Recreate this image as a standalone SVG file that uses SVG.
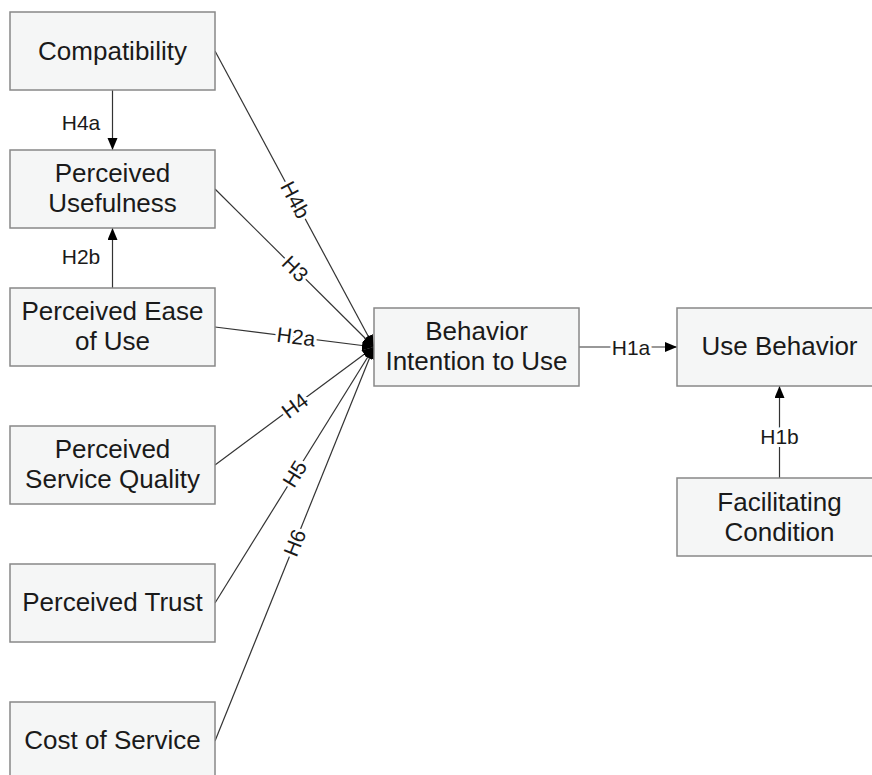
<svg xmlns="http://www.w3.org/2000/svg" width="872" height="775" viewBox="0 0 872 775">
<style>
.box{fill:#f5f6f6;stroke:#888;stroke-width:1.5}
.t{font-family:"Liberation Sans",Arial,sans-serif;font-size:26px;fill:#1a1a1a;text-anchor:middle}
.l{font-family:"Liberation Sans",Arial,sans-serif;font-size:21px;fill:#1a1a1a;text-anchor:middle}
.lb{stroke:#fff;stroke-width:6;paint-order:stroke;stroke-linejoin:round}
.c{stroke:#333;stroke-width:1.2;fill:none}
</style>
<defs>
<marker id="ah" markerUnits="userSpaceOnUse" markerWidth="14" markerHeight="12" refX="12" refY="5" orient="auto">
<path d="M0,0 L12,5 L0,10 z" fill="#000"/>
</marker>
</defs>
<rect width="872" height="775" fill="#fff"/>
<g id="connectors">
<line class="c" x1="112.5" y1="90" x2="112.5" y2="150" marker-end="url(#ah)"/>
<line class="c" x1="112.5" y1="288" x2="112.5" y2="228" marker-end="url(#ah)"/>
<line class="c" x1="215" y1="51" x2="374" y2="347" marker-end="url(#ah)"/>
<line class="c" x1="215" y1="189" x2="374" y2="347" marker-end="url(#ah)"/>
<line class="c" x1="215" y1="327" x2="374" y2="347" marker-end="url(#ah)"/>
<line class="c" x1="215" y1="465" x2="374" y2="347" marker-end="url(#ah)"/>
<line class="c" x1="215" y1="603" x2="374" y2="347" marker-end="url(#ah)"/>
<line class="c" x1="215" y1="741" x2="374" y2="347" marker-end="url(#ah)"/>
<line class="c" x1="579" y1="347" x2="677" y2="347" marker-end="url(#ah)"/>
<line class="c" x1="779.5" y1="478" x2="779.5" y2="386" marker-end="url(#ah)"/>
<text class="l" x="81" y="130">H4a</text>
<text class="l" x="81" y="264">H2b</text>
<text class="l lb" transform="translate(295,200) rotate(61.8)" y="7">H4b</text>
<text class="l lb" transform="translate(295,269) rotate(44.8)" y="7">H3</text>
<text class="l lb" transform="translate(296,337) rotate(7.2)" y="7">H2a</text>
<text class="l lb" transform="translate(295,406) rotate(-36.6)" y="7">H4</text>
<text class="l lb" transform="translate(295,474) rotate(-58.2)" y="7">H5</text>
<text class="l lb" transform="translate(295,543) rotate(-68)" y="7">H6</text>
<text class="l lb" x="631" y="355">H1a</text>
<text class="l lb" x="779.5" y="444">H1b</text>
</g>
<g id="compatibility">
<rect class="box" x="10" y="12" width="205" height="78"/>
<text class="t" x="112.5" y="60">Compatibility</text>
</g>
<g id="perceived-usefulness">
<rect class="box" x="10" y="150" width="205" height="78"/>
<text class="t" x="112.5" y="182">Perceived</text>
<text class="t" x="112.5" y="212">Usefulness</text>
</g>
<g id="perceived-ease-of-use">
<rect class="box" x="10" y="288" width="205" height="78"/>
<text class="t" x="112.5" y="320">Perceived Ease</text>
<text class="t" x="112.5" y="350">of Use</text>
</g>
<g id="perceived-service-quality">
<rect class="box" x="10" y="426" width="205" height="78"/>
<text class="t" x="112.5" y="458">Perceived</text>
<text class="t" x="112.5" y="488">Service Quality</text>
</g>
<g id="perceived-trust">
<rect class="box" x="10" y="564" width="205" height="78"/>
<text class="t" x="112.5" y="611">Perceived Trust</text>
</g>
<g id="cost-of-service">
<rect class="box" x="10" y="702" width="205" height="78"/>
<text class="t" x="112.5" y="749">Cost of Service</text>
</g>
<g id="behavior-intention">
<rect class="box" x="374" y="308" width="205" height="78"/>
<text class="t" x="476.5" y="340">Behavior</text>
<text class="t" x="476.5" y="370">Intention to Use</text>
</g>
<g id="use-behavior">
<rect class="box" x="677" y="308" width="205" height="78"/>
<text class="t" x="779.5" y="355">Use Behavior</text>
</g>
<g id="facilitating-condition">
<rect class="box" x="677" y="478" width="205" height="78"/>
<text class="t" x="779.5" y="511">Facilitating</text>
<text class="t" x="779.5" y="541">Condition</text>
</g>
</svg>
